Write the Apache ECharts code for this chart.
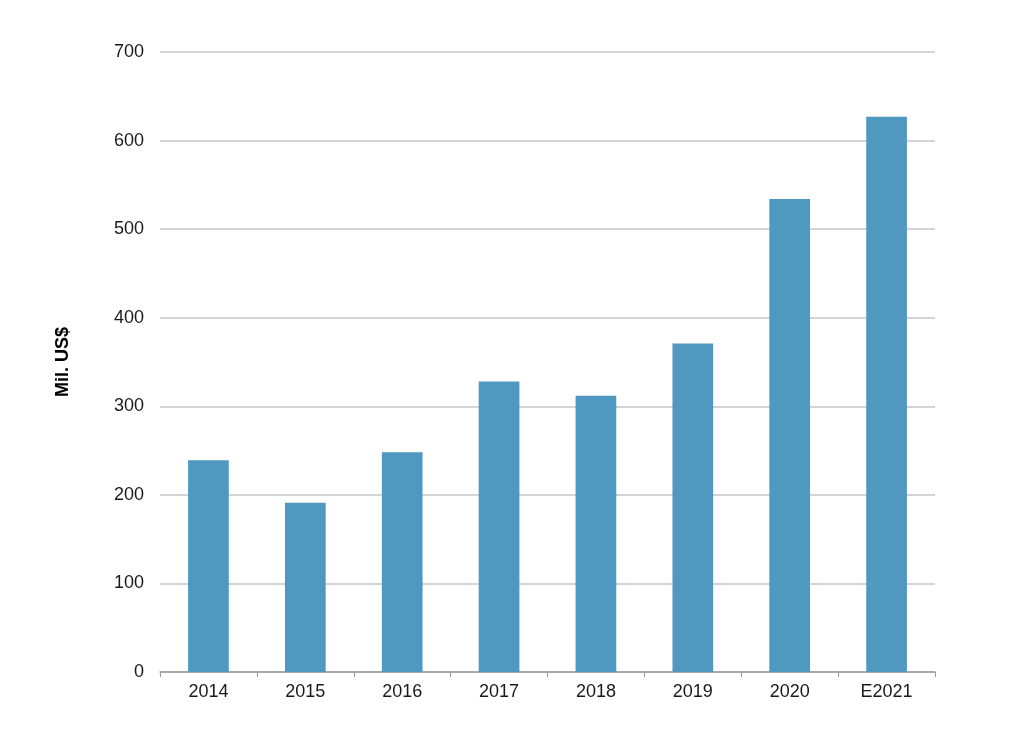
<!DOCTYPE html>
<html>
<head>
<meta charset="utf-8">
<script src="https://cdn.jsdelivr.net/npm/echarts@6/dist/echarts.min.js"></script>
<style>
html,body{margin:0;padding:0;background:#fff;}
#chart{width:1024px;height:733px;}
</style>
</head>
<body>
<div id="chart"></div>
<script>
const categories = ['2014','2015','2016','2017','2018','2019','2020','E2021'];
const values = [239, 191, 248, 328, 312, 371, 534, 627];
const yTicks = [0,100,200,300,400,500,600,700];

const chart = echarts.init(document.getElementById('chart'), null, {renderer:'canvas'});
chart.setOption({
  animation: false,
  backgroundColor: '#ffffff',
  grid: {left: 160, right: 89, top: 52, bottom: 61, containLabel: false},
  xAxis: {
    type: 'category',
    data: categories,
    axisLine: {show: true, lineStyle: {color: '#999999', width: 1.5}},
    axisTick: {show: true, alignWithLabel: false, length: 5, lineStyle: {color: '#999999'}},
    axisLabel: {color: '#1a1a1a', fontSize: 18, fontFamily: 'Liberation Sans, Arial, sans-serif', margin: 11}
  },
  yAxis: {
    type: 'value',
    min: yTicks[0],
    max: yTicks[yTicks.length-1],
    interval: 100,
    name: 'Mil. US$',
    nameLocation: 'middle',
    nameGap: 88,
    nameRotate: 90,
    nameTextStyle: {color: '#000', fontSize: 18, fontWeight: 'bold', fontFamily: 'Liberation Sans, Arial, sans-serif'},
    axisLine: {show: false},
    axisTick: {show: false},
    axisLabel: {color: '#1a1a1a', fontSize: 18, fontFamily: 'Liberation Sans, Arial, sans-serif', margin: 16},
    splitLine: {show: true, lineStyle: {color: '#d4d4d4', width: 2}}
  },
  series: [{
    type: 'bar',
    data: values,
    barWidth: '42%',
    itemStyle: {color: '#4f98c0'}
  }]
});
</script>
</body>
</html>
